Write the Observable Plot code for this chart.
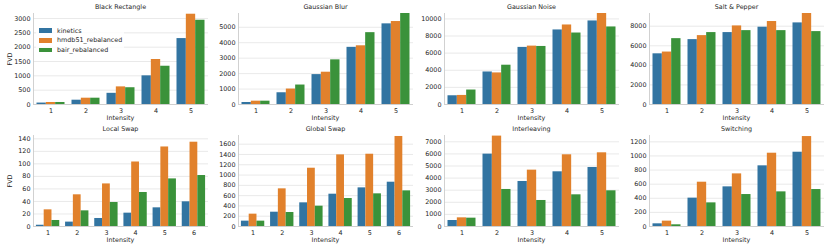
<!DOCTYPE html>
<html><head><meta charset="utf-8">
<script src="https://cdn.jsdelivr.net/npm/d3@7"></script>
<script src="https://cdn.jsdelivr.net/npm/@observablehq/plot@0.6"></script>
<style>
body{margin:0;background:#fff;font-family:"DejaVu Sans",sans-serif;}
#chart{position:relative;width:830px;height:249px;overflow:hidden;background:#fff;}
.lbl{position:absolute;font-size:6.4px;line-height:1;color:#262626;white-space:nowrap;transform:translate(-50%,-50%);}
.panel{position:absolute;}
.legend{position:absolute;left:36px;top:25px;width:88px;height:30px;background:rgba(255,255,255,0.8);font-size:6.4px;color:#262626;}
.legend .row{position:absolute;left:3px;height:8px;display:flex;align-items:center;}
.legend .sw{width:13px;height:4.5px;margin-right:5px;}
</style></head><body><div id="chart"></div>
<script>
// Series and colours
const series = ["kinetics", "hmdb51_rebalanced", "bair_rebalanced"];
const colors = ["#3274a1", "#e1812c", "#3a923a"];

// Panel titles
const titles = ["Black Rectangle", "Gaussian Blur", "Gaussian Noise", "Salt & Pepper",
                "Local Swap", "Global Swap", "Interleaving", "Switching"];

// Intensity categories
const intensities5 = [1, 2, 3, 4, 5];
const intensities6 = [1, 2, 3, 4, 5, 6];

// Values: one row per series (kinetics, hmdb51_rebalanced, bair_rebalanced)
const blackRectangle = [[50, 150, 390, 1000, 2300], [70, 220, 615, 1570, 3150], [70, 220, 585, 1335, 2940]];
const gaussianBlur = [[130, 760, 1935, 3700, 5220], [215, 1000, 2090, 3800, 5370], [215, 1260, 2890, 4650, 5890]];
const gaussianNoise = [[1020, 3800, 6670, 8710, 9760], [1060, 3690, 6820, 9290, 10630], [1690, 4590, 6780, 8350, 9060]];
const saltPepper = [[5180, 6630, 7350, 7900, 8340], [5360, 7040, 8030, 8480, 9300], [6730, 7350, 7550, 7550, 7450]];
const localSwap = [[2, 7, 12.8, 21.3, 29.8, 39.4], [26.6, 50.6, 68, 103, 127, 134.6], [9.6, 25, 38.3, 54.3, 76, 81.4]];
const globalSwap = [[104, 278, 460, 628, 751, 861], [240, 732, 1133, 1392, 1405, 1750], [104, 272, 395, 544, 635, 693]];
const interleaving = [[496, 5980, 3720, 4520, 4877], [716, 7470, 4657, 5925, 6090], [689, 3060, 2150, 2618, 2950]];
const switching = [[38, 402, 562, 860, 1053], [76, 628, 746, 1039, 1275], [24, 335, 453, 491, 524]];

// Y tick labels per panel
const ticksBlackRectangle = [0, 500, 1000, 1500, 2000, 2500, 3000];
const ticksGaussianBlur = [0, 1000, 2000, 3000, 4000, 5000];
const ticksGaussianNoise = [0, 2000, 4000, 6000, 8000, 10000];
const ticksSaltPepper = [0, 2000, 4000, 6000, 8000];
const ticksLocalSwap = [0, 20, 40, 60, 80, 100, 120, 140];
const ticksGlobalSwap = [0, 200, 400, 600, 800, 1000, 1200, 1400, 1600];
const ticksInterleaving = [0, 1000, 2000, 3000, 4000, 5000, 6000, 7000];
const ticksSwitching = [0, 200, 400, 600, 800, 1000, 1200];

// Y axis upper limits
const yMax = [3175, 5890, 10630, 9300, 145.3, 1769, 7520, 1290];

const panelData = [blackRectangle, gaussianBlur, gaussianNoise, saltPepper, localSwap, globalSwap, interleaving, switching];
const panelTicks = [ticksBlackRectangle, ticksGaussianBlur, ticksGaussianNoise, ticksSaltPepper, ticksLocalSwap, ticksGlobalSwap, ticksInterleaving, ticksSwitching];
const panelX = [intensities5, intensities5, intensities5, intensities5, intensities6, intensities6, intensities5, intensities5];

const colLeft = [33, 238, 444, 649];
const rowTop = [13, 135];
const plotW = 175, plotH = 91;
const mL = 30, mR = 3, mT = 13, mB = 22;
const groupW = 0.8;

const chart = document.getElementById("chart");

function addLabel(text, x, y, rotate) {
  const d = document.createElement("div");
  d.className = "lbl";
  d.textContent = text;
  d.style.left = x + "px";
  d.style.top = y + "px";
  if (rotate) d.style.transform = "translate(-50%,-50%) rotate(-90deg)";
  chart.appendChild(d);
}

panelData.forEach((vals, p) => {
  const r = Math.floor(p / 4), c = p % 4;
  const xs = panelX[p];
  const n = xs.length;
  const rows = [];
  series.forEach((s, si) => vals[si].forEach((v, i) => rows.push({s, si, k: xs[i], v})));
  const ticks = panelTicks[p];
  const svg = Plot.plot({
    width: mL + plotW + mR,
    height: mT + plotH + mB,
    marginLeft: mL, marginRight: mR, marginTop: mT, marginBottom: mB,
    style: {background: "transparent", fontFamily: "DejaVu Sans", fontSize: "6.4px", color: "#262626", overflow: "visible"},
    x: {type: "linear", domain: [0.5, n + 0.5], ticks: xs, tickFormat: d => String(d), tickSize: 0, tickPadding: 4, label: null},
    y: {domain: [0, yMax[p]], ticks: ticks, tickSize: 0, tickPadding: 3, tickFormat: d => String(d), label: null},
    color: {domain: series, range: colors},
    marks: [
      Plot.ruleY(ticks, {stroke: "#e3e3e3", strokeWidth: 0.8}),
      Plot.rect(rows, {
        x1: d => d.k - groupW / 2 + d.si * groupW / 3,
        x2: d => d.k - groupW / 2 + (d.si + 1) * groupW / 3,
        y1: 0, y2: "v", fill: "s"
      }),
      Plot.ruleX([0.5], {stroke: "#cccccc", strokeWidth: 0.9}),
      Plot.ruleY([0], {stroke: "#cccccc", strokeWidth: 0.9})
    ]
  });
  svg.classList.add("panel");
  svg.style.left = (colLeft[c] - mL) + "px";
  svg.style.top = (rowTop[r] - mT) + "px";
  chart.appendChild(svg);

  addLabel(titles[p], colLeft[c] + plotW / 2, rowTop[r] - 5.7);
  addLabel("Intensity", colLeft[c] + plotW / 2, rowTop[r] + plotH + 14.3);
  if (c === 0) addLabel("FVD", 10, rowTop[r] + plotH / 2, true);
});

// Legend (upper left of first panel)
const leg = document.createElement("div");
leg.className = "legend";
series.forEach((s, i) => {
  const row = document.createElement("div");
  row.className = "row";
  row.style.top = (1.7 + i * 9.7) + "px";
  const sw = document.createElement("span");
  sw.className = "sw";
  sw.style.background = colors[i];
  const t = document.createElement("span");
  t.textContent = s;
  row.appendChild(sw);
  row.appendChild(t);
  leg.appendChild(row);
});
chart.appendChild(leg);
</script>
</body></html>
